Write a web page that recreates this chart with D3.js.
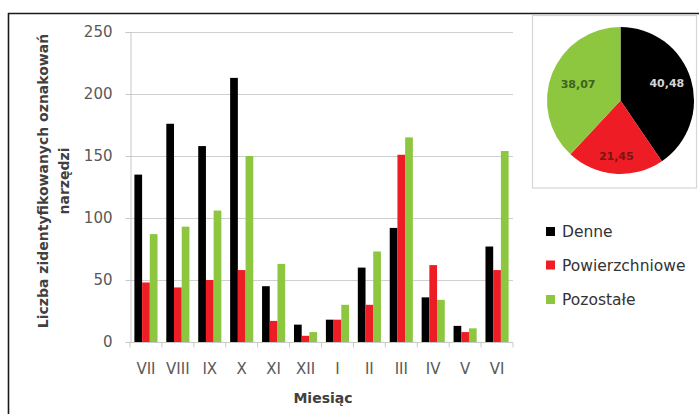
<!DOCTYPE html>
<html>
<head>
<meta charset="utf-8">
<script src="https://cdn.jsdelivr.net/npm/d3@7"></script>
<style>
  html, body { margin: 0; padding: 0; background: #fff; }
  svg { display: block; }
  text { font-family: "DejaVu Sans", sans-serif; }
</style>
</head>
<body>
<svg id="chart" width="699" height="414"></svg>
<script>
// Months of the survey season (Roman numerals), July to June
const months = ["VII", "VIII", "IX", "X", "XI", "XII", "I", "II", "III", "IV", "V", "VI"];
const seriesNames = ["Denne", "Powierzchniowe", "Pozostałe"];
const denne = [135, 176, 158, 213, 45, 14, 18, 60, 92, 36, 13, 77];
const powierzchniowe = [48, 44, 50, 58, 17, 5, 18, 30, 151, 62, 8, 58];
const pozostale = [87, 93, 106, 150, 63, 8, 30, 73, 165, 34, 11, 154];
const yTicks = [0, 50, 100, 150, 200, 250];
// Share of each group (%)
const pieValues = [40.48, 21.45, 38.07];
const pieLabels = ["40,48", "21,45", "38,07"];

const colors = ["#000000", "#ee1c24", "#8dc63f"];
const pieLabelColors = ["#d4d4d4", "#7a1515", "#3a6420"];

const svg = d3.select("#chart");
svg.append("rect").attr("width", 699).attr("height", 414).attr("fill", "#fff");

// outer frame (top and left edges)
svg.append("line").attr("x1", 8).attr("x2", 699).attr("y1", 13.5).attr("y2", 13.5)
  .attr("stroke", "#1a1a1a").attr("stroke-width", 1.6);
svg.append("line").attr("x1", 8.5).attr("x2", 8.5).attr("y1", 13).attr("y2", 414)
  .attr("stroke", "#1a1a1a").attr("stroke-width", 1.6);

const table = months.map((m, i) => ({
  month: m,
  values: [denne[i], powierzchniowe[i], pozostale[i]]
}));

const x = d3.scaleBand().domain(months).range([130, 513]).paddingInner(0).paddingOuter(0);
const xs = d3.scaleBand().domain(seriesNames).range([0, x.bandwidth()])
  .paddingInner(0).paddingOuter(0.57);
const y = d3.scaleLinear().domain([0, 250]).range([342, 32]);

// horizontal gridlines
svg.append("g").selectAll("line").data(yTicks.filter(t => t > 0)).join("line")
  .attr("x1", 130).attr("x2", 513)
  .attr("y1", d => y(d) + 0.5).attr("y2", d => y(d) + 0.5)
  .attr("stroke", "#cfcfcf").attr("stroke-width", 1.2);

// y axis
const yAxis = svg.append("g").attr("transform", "translate(130.5,0)")
  .call(d3.axisLeft(y).tickValues(yTicks).tickSize(5).tickPadding(13));
yAxis.select(".domain").attr("stroke", "#c8c8c8");
yAxis.selectAll(".tick line").attr("stroke", "#c8c8c8");
yAxis.selectAll(".tick text").attr("fill", "#595959")
  .style("font-size", "15px").style("font-family", "DejaVu Sans, sans-serif");

// bars
const groups = svg.append("g").selectAll("g").data(table).join("g")
  .attr("transform", d => `translate(${x(d.month)},0)`);
groups.selectAll("rect").data(d => d.values.map((v, k) => ({ v, k }))).join("rect")
  .attr("x", d => xs(seriesNames[d.k]))
  .attr("width", xs.bandwidth())
  .attr("y", d => y(d.v))
  .attr("height", d => y(0) - y(d.v))
  .attr("fill", d => colors[d.k]);

// x axis with ticks between categories
const xAxisG = svg.append("g").attr("transform", "translate(0,342.5)");
xAxisG.append("line").attr("x1", 130).attr("x2", 513).attr("stroke", "#c8c8c8").attr("stroke-width", 1.2);
const boundaries = months.map(m => x(m)).concat([x(months[months.length - 1]) + x.bandwidth()]);
xAxisG.selectAll("line.tk").data(boundaries).join("line").attr("class", "tk")
  .attr("x1", d => d).attr("x2", d => d).attr("y1", 0).attr("y2", 5)
  .attr("stroke", "#c8c8c8");
xAxisG.selectAll("text").data(months).join("text")
  .attr("x", d => x(d) + x.bandwidth() / 2)
  .attr("y", 31)
  .attr("text-anchor", "middle")
  .attr("fill", "#595959")
  .style("font-size", "15px")
  .text(d => d);

// axis titles
svg.append("text").attr("x", 323).attr("y", 403).attr("text-anchor", "middle")
  .attr("fill", "#404040").style("font-size", "14px").style("font-weight", "bold")
  .text("Miesiąc");
const yTitle = svg.append("g").attr("transform", "translate(0,181) rotate(-90)");
yTitle.append("text").attr("x", 0).attr("y", 48).attr("text-anchor", "middle")
  .attr("fill", "#404040").style("font-size", "14px").style("font-weight", "bold")
  .text("Liczba zidentyfikowanych oznakowań");
yTitle.append("text").attr("x", 0).attr("y", 69).attr("text-anchor", "middle")
  .attr("fill", "#404040").style("font-size", "14px").style("font-weight", "bold")
  .text("narzędzi");

// legend
const legendY = [231.5, 265, 299.5];
const legend = svg.append("g").selectAll("g").data(seriesNames).join("g")
  .attr("transform", (d, i) => `translate(546,${legendY[i]})`);
legend.append("rect").attr("x", 0).attr("y", -4.5).attr("width", 9).attr("height", 9)
  .attr("fill", (d, i) => colors[i]);
legend.append("text").attr("x", 16).attr("y", 5.5)
  .attr("fill", "#333333").style("font-size", "15.5px").text(d => d);

// pie inset
svg.append("rect").attr("x", 532.5).attr("y", 15.5).attr("width", 164).attr("height", 172.5)
  .attr("fill", "#fff").attr("stroke", "#d6d6d6").attr("stroke-width", 1.2);
const pieG = svg.append("g").attr("transform", "translate(620.5,100.5)");
const pie = d3.pie().sort(null).value(d => d);
const arcs = pie(pieValues);
const r = 73.5;
const arc = d3.arc().innerRadius(0).outerRadius(r);
pieG.selectAll("path").data(arcs).join("path")
  .attr("d", arc).attr("fill", (d, i) => colors[i]);
// label distance from the centre, as a share of the radius, per slice
const labelRadius = [0.66, 0.76, 0.62];
pieG.selectAll("text").data(arcs).join("text")
  .attr("transform", (d, i) => {
    const a = d3.arc().innerRadius(r * labelRadius[i]).outerRadius(r * labelRadius[i]);
    const [cx, cy] = a.centroid(d);
    return `translate(${cx},${cy - (i === 0 ? 3 : 0)})`;
  })
  .attr("text-anchor", "middle").attr("dy", "0.35em")
  .attr("fill", (d, i) => pieLabelColors[i])
  .style("font-size", "11px").style("font-weight", "bold")
  .text((d, i) => pieLabels[i]);
</script>
</body>
</html>
